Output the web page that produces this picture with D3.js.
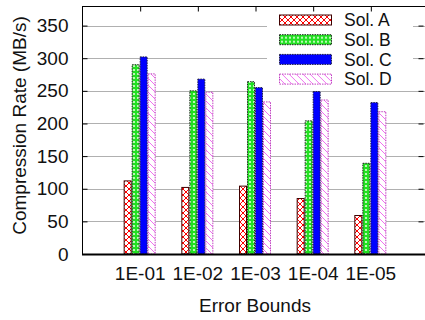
<!DOCTYPE html>
<html>
<head>
<meta charset="utf-8">
<script src="https://cdn.jsdelivr.net/npm/d3@7"></script>
<style>
  html, body { margin: 0; padding: 0; background: #fff; }
  svg { display: block; font-family: "Liberation Sans", Arial, Helvetica, sans-serif; }
</style>
</head>
<body>
<svg id="chart" width="425" height="320"></svg>
<script>
// Compression throughput per error bound for four solutions
const categories = ["1E-01", "1E-02", "1E-03", "1E-04", "1E-05"];
const seriesNames = ["Sol. A", "Sol. B", "Sol. C", "Sol. D"];
const solA = [112, 102, 104, 85, 59];
const solB = [290, 250, 264, 204, 139];
const solC = [302, 268, 255, 249, 232];
const solD = [276, 248, 233, 236, 218];
const yTicks = [0, 50, 100, 150, 200, 250, 300, 350];
const xTitle = "Error Bounds";
const yTitle = "Compression Rate (MB/s)";

const seriesValues = [solA, solB, solC, solD];

const svg = d3.select("#chart");
const margin = { left: 82, right: 428, top: 6, bottom: 254 };

const x = d3.scalePoint().domain(categories).range([margin.left, margin.right]).padding(1);
const sub = d3.scaleBand().domain(seriesNames).range([-16, 16]).padding(0);
const y = d3.scaleLinear().domain([0, 380]).range([margin.bottom, margin.top]);

// Fill patterns for each solution
const defs = svg.append("defs");

const pA = defs.append("pattern").attr("id", "patA").attr("patternUnits", "userSpaceOnUse")
  .attr("width", 6).attr("height", 6);
pA.append("rect").attr("width", 6).attr("height", 6).attr("fill", "#fff");
pA.append("path").attr("d", "M0,0 L6,6 M6,0 L0,6").attr("stroke", "#ff0000").attr("stroke-width", 1);

const pB = defs.append("pattern").attr("id", "patB").attr("patternUnits", "userSpaceOnUse")
  .attr("width", 4).attr("height", 4);
pB.append("rect").attr("width", 4).attr("height", 4).attr("fill", "#22e022");
pB.append("circle").attr("cx", 2).attr("cy", 2).attr("r", 1.1).attr("fill", "#e0ffd8");

const pD = defs.append("pattern").attr("id", "patD").attr("patternUnits", "userSpaceOnUse")
  .attr("width", 7).attr("height", 7);
pD.append("rect").attr("width", 7).attr("height", 7).attr("fill", "#fff");
pD.append("path").attr("d", "M-1,-1 L8,8 M-1,6 L1,8 M6,-1 L8,1").attr("stroke", "#f070f0").attr("stroke-width", 1);

const styles = [
  { fill: "url(#patA)", stroke: "#400000", dash: null },
  { fill: "url(#patB)", stroke: "#202020", dash: "1.5,1" },
  { fill: "#0000ff", stroke: "#202040", dash: "1.5,1" },
  { fill: "url(#patD)", stroke: "#c040c0", dash: "1.5,1" }
];

// Horizontal grid
svg.append("g").selectAll("line").data(yTicks.slice(1)).join("line")
  .attr("x1", margin.left).attr("x2", margin.right)
  .attr("y1", d => Math.round(y(d)) + 0.5).attr("y2", d => Math.round(y(d)) + 0.5)
  .attr("stroke", "#b0b0b0").attr("stroke-width", 1);

// Bars
const groups = svg.append("g").selectAll("g").data(seriesNames).join("g");
groups.each(function (name, si) {
  const st = styles[si];
  d3.select(this).selectAll("rect").data(seriesValues[si]).join("rect")
    .attr("x", (d, i) => x(categories[i]) + sub(name) + 0.5)
    .attr("y", d => y(d))
    .attr("width", sub.bandwidth() - 1)
    .attr("height", d => y(0) - y(d))
    .attr("fill", st.fill)
    .attr("stroke", st.stroke)
    .attr("stroke-width", 1)
    .attr("stroke-dasharray", st.dash);
});

// Legend with opaque background
const legend = svg.append("g");
legend.append("rect").attr("x", 267).attr("y", margin.top + 1).attr("width", 146).attr("height", 82)
  .attr("fill", "#fff");
const legendRows = legend.selectAll("g").data(seriesNames).join("g")
  .attr("transform", (d, i) => `translate(0, ${20 + i * 19.7})`);
legendRows.append("rect")
  .attr("x", 279.5).attr("y", -5).attr("width", 52).attr("height", 10)
  .attr("fill", (d, i) => styles[i].fill)
  .attr("stroke", (d, i) => styles[i].stroke)
  .attr("stroke-width", 1)
  .attr("stroke-dasharray", (d, i) => styles[i].dash);
legendRows.append("text")
  .attr("x", 344).attr("y", 0).attr("dy", "0.36em")
  .attr("font-size", 17.5).attr("fill", "#111")
  .text(d => d);

// Frame
svg.append("rect").attr("x", margin.left + 0.5).attr("y", margin.top + 0.5)
  .attr("width", margin.right - margin.left).attr("height", margin.bottom - margin.top)
  .attr("fill", "none").attr("stroke", "#000").attr("stroke-width", 1);
svg.append("line").attr("x1", margin.left).attr("x2", margin.right)
  .attr("y1", margin.bottom + 0.5).attr("y2", margin.bottom + 0.5)
  .attr("stroke", "#000").attr("stroke-width", 2);

// Axes
const yAxisL = d3.axisLeft(y).tickValues(yTicks).tickSizeInner(-5).tickSizeOuter(0).tickPadding(14);
const gy = svg.append("g").attr("transform", `translate(${margin.left + 0.5},0)`).call(yAxisL);
gy.select(".domain").remove();
gy.selectAll("line").attr("stroke", "#000");
gy.selectAll("text").attr("font-size", 19).attr("fill", "#111")
  .attr("font-family", "'Liberation Sans', Arial, sans-serif");

const yAxisR = d3.axisRight(y).tickValues(yTicks).tickSizeInner(-5).tickSizeOuter(0).tickFormat("");
const gyr = svg.append("g").attr("transform", `translate(${margin.right - 4.5},0)`).call(yAxisR);
gyr.select(".domain").remove();
gyr.selectAll("line").attr("stroke", "#000");

const xAxisT = d3.axisTop(x).tickSizeInner(-5).tickSizeOuter(0).tickFormat("");
const gxt = svg.append("g").attr("transform", `translate(0.5,${margin.top + 0.5})`).call(xAxisT);
gxt.select(".domain").remove();
gxt.selectAll("line").attr("stroke", "#000");

const xAxisB = d3.axisBottom(x).tickSize(0).tickPadding(13);
const gx = svg.append("g").attr("transform", `translate(0,${margin.bottom})`).call(xAxisB);
gx.select(".domain").remove();
gx.selectAll("text").attr("font-size", 19).attr("fill", "#111")
  .attr("font-family", "'Liberation Sans', Arial, sans-serif");

// Titles
svg.append("text").attr("x", (margin.left + margin.right) / 2).attr("y", 311.5)
  .attr("text-anchor", "middle").attr("font-size", 19).attr("fill", "#111").text(xTitle);
svg.append("text").attr("transform", "translate(26,125.5) rotate(-90)")
  .attr("text-anchor", "middle").attr("font-size", 19).attr("fill", "#111").text(yTitle);
</script>
</body>
</html>
